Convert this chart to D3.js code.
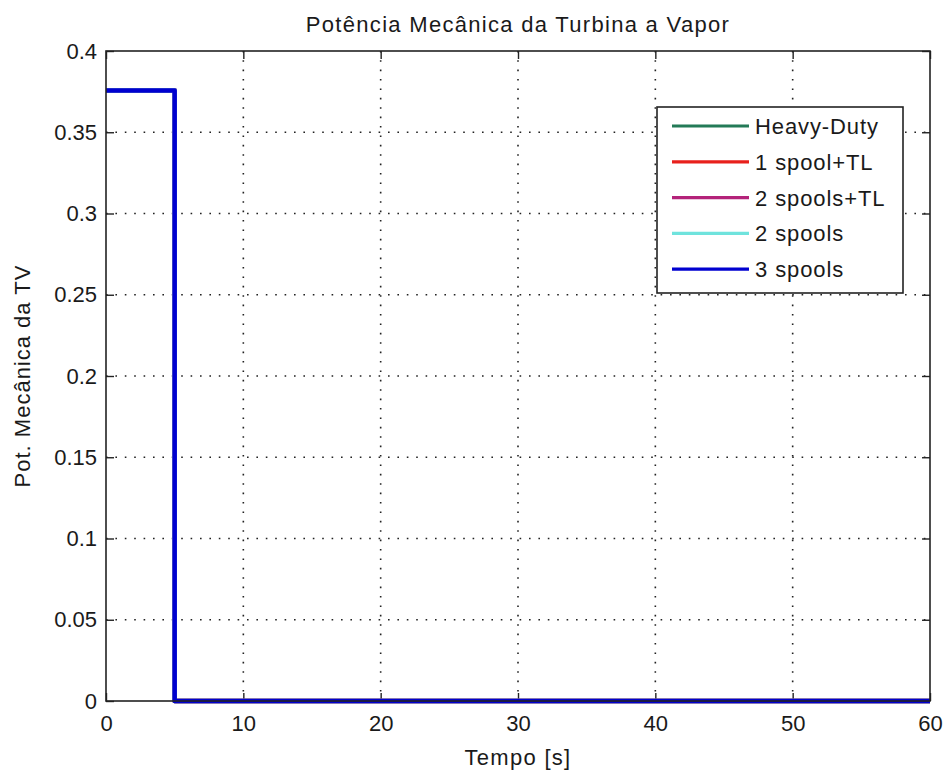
<!DOCTYPE html>
<html>
<head>
<meta charset="utf-8">
<script src="https://cdn.jsdelivr.net/npm/d3@7"></script>
<style>
  html, body { margin: 0; padding: 0; background: #fff; }
  svg text { font-family: "Liberation Sans", Arial, Helvetica, sans-serif; fill: #1a1a1a; }
</style>
</head>
<body>
<svg id="chart" width="948" height="776"></svg>
<script>
// Time samples (s) and steam-turbine mechanical power for each configuration
const timeS = [0, 5, 5, 60];
const seriesNames = ["Heavy-Duty", "1 spool+TL", "2 spools+TL", "2 spools", "3 spools"];
const heavyDuty   = [0.3757, 0.3757, 0, 0];
const spool1TL    = [0.3757, 0.3757, 0, 0];
const spools2TL   = [0.3757, 0.3757, 0, 0];
const spools2     = [0.3757, 0.3757, 0, 0];
const spools3     = [0.3757, 0.3757, 0, 0];
const seriesValues = [heavyDuty, spool1TL, spools2TL, spools2, spools3];
const seriesColors = ["#237a57", "#e8201c", "#b4237a", "#6fe3dd", "#0000d0"];

const xTicks = [0, 10, 20, 30, 40, 50, 60];
const yTicks = [0, 0.05, 0.1, 0.15, 0.2, 0.25, 0.3, 0.35, 0.4];
const yTickLabels = ["0", "0.05", "0.1", "0.15", "0.2", "0.25", "0.3", "0.35", "0.4"];

const titleText = "Potência Mecânica da Turbina a Vapor";
const xLabelText = "Tempo [s]";
const yLabelText = "Pot. Mecânica da TV";

const svg = d3.select("#chart");
const m = { left: 106, right: 930, top: 51, bottom: 701 };

const x = d3.scaleLinear().domain([0, 60]).range([m.left, m.right]);
const y = d3.scaleLinear().domain([0, 0.4]).range([m.bottom, m.top]);

// dotted grid
const grid = svg.append("g").attr("stroke", "#222").attr("stroke-width", 1.6)
  .attr("stroke-dasharray", "1.6,7.8");
grid.selectAll("line.gx").data(xTicks.slice(1, -1)).join("line")
  .attr("x1", d => x(d)).attr("x2", d => x(d))
  .attr("y1", m.bottom).attr("y2", m.top);
grid.selectAll("line.gy").data(yTicks.slice(1, -1)).join("line")
  .attr("y1", d => y(d)).attr("y2", d => y(d))
  .attr("x1", m.left).attr("x2", m.right);

// axes with inward ticks on all four sides
const fmtY = (d) => yTickLabels[yTicks.indexOf(d)];
const tickLen = 8;
svg.append("g").attr("transform", `translate(0,${m.bottom})`)
  .call(d3.axisBottom(x).tickValues(xTicks).tickSizeInner(-tickLen).tickSizeOuter(0).tickPadding(14))
  .call(g => g.select(".domain").remove());
svg.append("g").attr("transform", `translate(0,${m.top})`)
  .call(d3.axisTop(x).tickValues(xTicks).tickSizeInner(-tickLen).tickSizeOuter(0).tickFormat(""))
  .call(g => g.select(".domain").remove());
svg.append("g").attr("transform", `translate(${m.left},0)`)
  .call(d3.axisLeft(y).tickValues(yTicks).tickSizeInner(-tickLen).tickSizeOuter(0).tickPadding(9).tickFormat(fmtY))
  .call(g => g.select(".domain").remove());
svg.append("g").attr("transform", `translate(${m.right},0)`)
  .call(d3.axisRight(y).tickValues(yTicks).tickSizeInner(-tickLen).tickSizeOuter(0).tickFormat(""))
  .call(g => g.select(".domain").remove());
svg.selectAll(".tick line").attr("stroke", "#222").attr("stroke-width", 1.4);
svg.selectAll(".tick text").attr("font-size", 22).attr("fill", "#1a1a1a")
  .attr("font-family", "'Liberation Sans', Arial, sans-serif");

// series lines, last one drawn on top
const line = d3.line().x((d, i) => x(timeS[i])).y(d => y(d));
svg.append("g").selectAll("path").data(seriesValues).join("path")
  .attr("d", d => line(d))
  .attr("fill", "none")
  .attr("stroke", (d, i) => seriesColors[i])
  .attr("stroke-width", 4.5)
  .attr("stroke-linejoin", "round");

// axes box
svg.append("rect").attr("x", m.left).attr("y", m.top)
  .attr("width", m.right - m.left).attr("height", m.bottom - m.top)
  .attr("fill", "none").attr("stroke", "#222").attr("stroke-width", 1.6);

// legend
const lg = svg.append("g");
lg.append("rect").attr("x", 657).attr("y", 107).attr("width", 246).attr("height", 186)
  .attr("fill", "#fff").attr("stroke", "#222").attr("stroke-width", 1.6);
const rows = lg.selectAll("g.row").data(seriesNames).join("g")
  .attr("transform", (d, i) => `translate(0,${126 + i * 35.8})`);
rows.append("line").attr("x1", 672).attr("x2", 749).attr("y1", 0).attr("y2", 0)
  .attr("stroke", (d, i) => seriesColors[i]).attr("stroke-width", 3.2);
rows.append("text").attr("x", 755).attr("y", 0).attr("dy", "0.36em")
  .attr("font-size", 22).attr("letter-spacing", 0.9).text(d => d);

// titles
svg.append("text").attr("x", (m.left + m.right) / 2).attr("y", 32)
  .attr("text-anchor", "middle").attr("font-size", 22).attr("letter-spacing", 1.3).text(titleText);
svg.append("text").attr("x", (m.left + m.right) / 2).attr("y", 765)
  .attr("text-anchor", "middle").attr("font-size", 22).attr("letter-spacing", 1.3).text(xLabelText);
svg.append("text").attr("transform", `translate(30,${(m.top + m.bottom) / 2}) rotate(-90)`)
  .attr("text-anchor", "middle").attr("font-size", 22).attr("letter-spacing", 1).text(yLabelText);
</script>
</body>
</html>
